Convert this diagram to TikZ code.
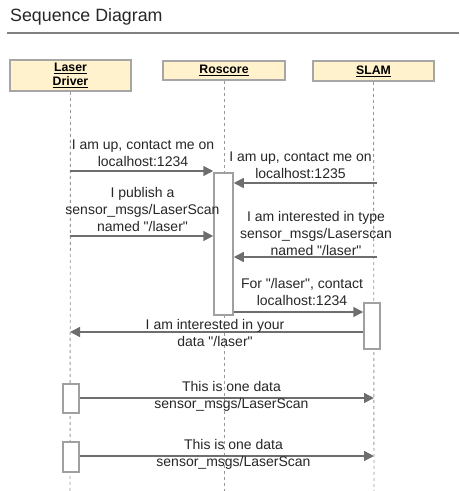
\documentclass[tikz,border=0pt]{standalone}
\usepackage{fontspec}
\setmainfont{Liberation Sans}
\usetikzlibrary{arrows.meta}
\definecolor{hdrfill}{HTML}{FFF2CC}
\definecolor{hdrdraw}{HTML}{A6A6A6}
\definecolor{actdraw}{HTML}{A0A0A0}
\definecolor{msgcol}{HTML}{6E6E6E}
\definecolor{lifecol}{HTML}{999999}
\newcommand\qd{\textquotedbl}
\begin{document}
\begin{tikzpicture}[x=1pt,y=-1pt,
  header/.style={draw=hdrdraw,fill=hdrfill,line width=1.6pt,inner sep=0pt,align=center,
    font=\fontsize{12.3}{14.5}\selectfont\bfseries},
  act/.style={draw=actdraw,fill=white,line width=1.5pt,inner sep=0pt},
  life/.style={draw=lifecol,line width=0.9pt,dash pattern=on 3pt off 3pt},
  msg/.style={draw=msgcol,line width=1.5pt,-{Triangle[length=10pt,width=10pt]}},
  lbl/.style={inner sep=0pt,align=center,text=black!85,font=\fontsize{14}{17}\selectfont}]
\useasboundingbox (0,0) rectangle (459,491);
% title
\node[anchor=west,inner sep=0pt,font=\fontsize{17.8}{20}\selectfont,text=black!85] (title) at (10,17) {Sequence Diagram};
\coordinate (ruleL) at (7,33);
\coordinate (ruleR) at (459,33);
\draw[color=black!50,line width=1.8pt] (ruleL) -- (ruleR);
% headers
\node[header,minimum width=121pt,minimum height=31pt] (laser) at (70.5,75.5) {\underline{Laser}\\[-1pt]\underline{Driver}};
\node[header,minimum width=122pt,minimum height=19pt] (ros) at (224,70.5) {\underline{Roscore}};
\node[header,minimum width=121pt,minimum height=20pt] (slam) at (373.5,71) {\underline{SLAM}};
% lifeline ends
\coordinate (laserEnd) at (70,491);
\coordinate (rosEnd) at (224,491);
\coordinate (slamEnd) at (374,491);
\draw[life] (laser.south) -- (laserEnd);
\draw[life] (ros.south) -- (rosEnd);
\draw[life] (slam.south) -- (slamEnd);
% activations
\node[act,minimum width=19pt,minimum height=142pt] (ract) at (223.5,244) {};
\node[act,minimum width=16pt,minimum height=46pt] (sact) at (372,326) {};
\node[act,minimum width=16pt,minimum height=29pt] (lact1) at (71,398.5) {};
\node[act,minimum width=16pt,minimum height=30pt] (lact2) at (71,457) {};
% messages
\draw[msg] (laserEnd |- 0,171) -- (ract.west |- 0,171);
\node[lbl] (l1) at (143,153.5) {I am up, contact me on\\localhost:1234};
\draw[msg] (377,183) -- (ract.east |- 0,183);
\node[lbl] (l2) at (300.5,165) {I am up, contact me on\\localhost:1235};
\draw[msg] (laserEnd |- 0,236) -- (ract.west |- 0,236);
\node[lbl] (l3) at (142.5,209.5) {I publish a\\sensor\_msgs/LaserScan\\named \qd/laser\qd};
\draw[msg] (377,257) -- (ract.east |- 0,257);
\node[lbl] (l4) at (316,233) {I am interested in type\\sensor\_msgs/Laserscan\\named \qd/laser\qd};
\draw[msg] (ract.east |- 0,312) -- (sact.west |- 0,312);
\node[lbl] (l5) at (302,291.5) {For \qd/laser\qd, contact\\localhost:1234};
\draw[msg] (sact.west |- 0,332) -- (laserEnd |- 0,332);
\node[lbl] (l6) at (215,333) {I am interested in your\\data \qd/laser\qd};
\draw[msg] (lact1.east |- 0,398) -- (slamEnd |- 0,398);
\node[lbl] (l7) at (231.5,396.5) {This is one data\\sensor\_msgs/LaserScan};
\draw[msg] (lact2.east |- 0,456) -- (slamEnd |- 0,456);
\node[lbl] (l8) at (233.5,454.5) {This is one data\\sensor\_msgs/LaserScan};
\end{tikzpicture}
\end{document}
